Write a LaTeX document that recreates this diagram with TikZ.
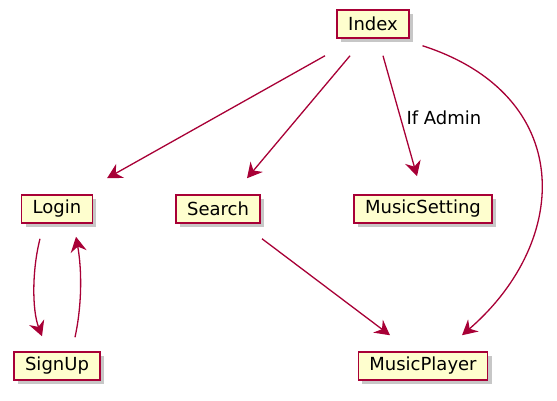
\documentclass[tikz,border=0pt]{standalone}
\usepackage{fontspec}
\setmainfont{DejaVu Sans}
\usetikzlibrary{arrows.meta,shadows}

\definecolor{umlred}{HTML}{A80036}
\definecolor{umlfill}{HTML}{FEFECE}

\begin{document}
\begin{tikzpicture}[x=1pt,y=-1pt,
  page/.style={draw=umlred, fill=umlfill, line width=1.5pt,
    font=\fontsize{18}{20}\selectfont, inner xsep=11pt, inner ysep=0pt,
    minimum height=28pt,
    drop shadow={shadow xshift=4pt, shadow yshift=-4pt, fill=black!40, opacity=0.55}},
  flow/.style={draw=umlred, line width=1.3pt,
    -{Stealth[length=15pt,width=16pt,inset=5pt]}}]

\useasboundingbox (0,0) rectangle (557,401);

% Pages
\node[page] (index) at (373,24) {Index};
\node[page] (login) at (57,209) {Login};
\node[page] (search) at (218,209) {Search};
\node[page] (setting) at (423,209) {MusicSetting};
\node[page] (signup) at (57,366) {SignUp};
\node[page] (player) at (423,366) {MusicPlayer};

% Links from Index
\draw[flow] ([shift={(-48,17)}]index.south) -- ([shift={(50,-16)}]login.north);
\draw[flow] ([shift={(-23,17)}]index.south) -- ([shift={(29,-16)}]search.north);
\draw[flow] ([shift={(10,17)}]index.south) -- ([shift={(-6,-18)}]setting.north);
\node[font=\fontsize{18}{20}\selectfont, anchor=west] (admin) at (403,118) {If Admin};
\draw[flow] ([shift={(13,7)}]index.south east)
  .. controls (575,95) and (572,240) .. ([shift={(39,-16)}]player.north);

% Search to player
\draw[flow] ([shift={(44,15)}]search.south) -- ([shift={(-33,-16)}]player.north);

% Login and SignUp
\draw[flow] ([shift={(-17,15)}]login.south)
  .. controls (32,270) and (32,310) .. ([shift={(-15,-15)}]signup.north);
\draw[flow] ([shift={(18,-14)}]signup.north)
  .. controls (82,305) and (82,270) .. ([shift={(19,13)}]login.south);

\end{tikzpicture}
\end{document}
